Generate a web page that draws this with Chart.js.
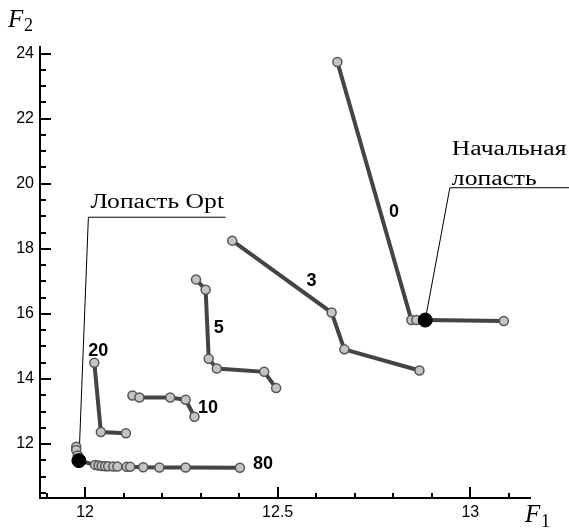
<!DOCTYPE html>
<html>
<head>
<meta charset="utf-8">
<script src="https://cdn.jsdelivr.net/npm/chart.js@4"></script>
<style>
  body { margin: 0; background: #fff; }
  canvas { display: block; }
</style>
</head>
<body>
<canvas id="chart" width="569" height="529"></canvas>
<script>
// series values (F1 = x, F2 = y)
const s0x = [12.655, 12.847, 12.860, 12.883, 13.087];
const s0y = [23.74, 15.81, 15.81, 15.81, 15.78];
const s3x = [12.382, 12.640, 12.673, 12.868];
const s3y = [18.25, 16.04, 14.91, 14.26];
const s5x = [12.288, 12.313, 12.321, 12.342, 12.465, 12.496];
const s5y = [17.06, 16.74, 14.62, 14.32, 14.22, 13.72];
const s10x = [12.123, 12.141, 12.221, 12.261, 12.284];
const s10y = [13.49, 13.43, 13.43, 13.36, 12.84];
const s20x = [12.024, 12.041, 12.106];
const s20y = [14.50, 12.37, 12.33];
const s80x = [11.977, 11.977, 11.981, 11.984, 12.026, 12.035, 12.043, 12.052, 12.060, 12.073, 12.084, 12.108, 12.117, 12.151, 12.193, 12.261, 12.402];
const s80y = [11.92, 11.82, 11.65, 11.49, 11.36, 11.34, 11.33, 11.32, 11.32, 11.31, 11.31, 11.30, 11.30, 11.29, 11.28, 11.28, 11.27];

// labels for each curve and where they sit (data units)
const seriesNames = ['0', '3', '5', '10', '20', '80'];
const nameX = [12.802, 12.588, 12.347, 12.319, 12.034, 12.462];
const nameY = [19.13, 17.01, 15.57, 13.12, 14.86, 11.39];

// marked blades: initial and optimal
const bladeNames = ['Начальная лопасть', 'Лопасть Opt'];
const bladeX = [12.883, 11.984];
const bladeY = [15.81, 11.49];

const xMin = 11.883, xMax = 13.155;
const yMin = 10.343, yMax = 24.2;

function pts(xs, ys) {
  return xs.map((x, i) => ({ x: x, y: ys[i] }));
}

function curve(xs, ys) {
  return {
    data: pts(xs, ys),
    showLine: true,
    borderColor: '#444444',
    borderWidth: 4,
    pointRadius: 4.5,
    pointBackgroundColor: '#c4c4c4',
    pointBorderColor: '#555555',
    pointBorderWidth: 1.5,
    order: 1
  };
}

// the serif captions in the picture are drawn a bit wide
function wideText(c, text, x, y) {
  c.save();
  c.translate(x, y);
  c.scale(1.28, 1);
  c.fillText(text, 0, 0);
  c.restore();
}

const tickFont = { family: 'Arial, "Liberation Sans", sans-serif', size: 16 };

const decorations = {
  id: 'decorations',
  beforeDatasetsDraw(chart) {
    const c = chart.ctx;
    const xs = chart.scales.x, ys = chart.scales.y;
    c.save();
    c.strokeStyle = '#000';
    c.lineWidth = 1;
    // leader for "Лопасть Opt"
    let cx = xs.getPixelForValue(12.0086), cy = ys.getPixelForValue(18.97);
    c.beginPath();
    c.moveTo(xs.getPixelForValue(12.365), cy);
    c.lineTo(cx, cy);
    c.lineTo(xs.getPixelForValue(bladeX[1]), ys.getPixelForValue(bladeY[1]));
    c.stroke();
    c.fillStyle = '#000';
    c.font = '20px "Liberation Serif", "Times New Roman", serif';
    c.textAlign = 'left';
    c.textBaseline = 'alphabetic';
    wideText(c, bladeNames[1], cx + 2, cy - 9);
    // leader for "Начальная лопасть"
    cx = xs.getPixelForValue(12.947); cy = ys.getPixelForValue(19.876);
    c.beginPath();
    c.moveTo(chart.width, cy);
    c.lineTo(cx, cy);
    c.lineTo(xs.getPixelForValue(bladeX[0]), ys.getPixelForValue(bladeY[0]));
    c.stroke();
    const words = bladeNames[0].split(' ');
    wideText(c, words[0], cx + 2, cy - 33);
    wideText(c, words[1], cx + 2, cy - 3);
    c.restore();
  },
  afterDraw(chart) {
    const c = chart.ctx;
    const xs = chart.scales.x, ys = chart.scales.y;
    const a = chart.chartArea;
    c.save();
    c.strokeStyle = '#000';
    c.lineWidth = 2;
    // inward ticks on x axis, minor every 0.1
    for (let i = 119; i <= 131; i++) {
      const px = Math.round(xs.getPixelForValue(i / 10));
      const len = i % 5 === 0 ? 11 : 5;
      c.beginPath();
      c.moveTo(px, a.bottom);
      c.lineTo(px, a.bottom - len);
      c.stroke();
    }
    // inward ticks on y axis, minor every 0.5
    for (let i = 21; i <= 48; i++) {
      const py = Math.round(ys.getPixelForValue(i / 2));
      const len = i % 4 === 0 ? 11 : 6;
      c.beginPath();
      c.moveTo(a.left, py);
      c.lineTo(a.left + len, py);
      c.stroke();
    }
    // curve names
    c.fillStyle = '#000';
    c.font = 'bold 18px Arial, "Liberation Sans", sans-serif';
    c.textAlign = 'center';
    c.textBaseline = 'middle';
    seriesNames.forEach((n, i) => {
      c.fillText(n, xs.getPixelForValue(nameX[i]), ys.getPixelForValue(nameY[i]));
    });
    // axis titles
    c.textAlign = 'left';
    c.textBaseline = 'alphabetic';
    c.font = 'italic 25px "Liberation Serif", "Times New Roman", serif';
    c.fillText('F', 8, 27);
    c.fillText('F', 525, 522);
    c.font = '18px "Liberation Serif", "Times New Roman", serif';
    c.fillText('2', 24, 31);
    c.fillText('1', 541, 527);
    c.restore();
  }
};

new Chart(document.getElementById('chart'), {
  type: 'scatter',
  data: {
    datasets: [
      {
        data: pts(bladeX, bladeY),
        pointRadius: 7,
        pointBackgroundColor: '#000',
        pointBorderColor: '#000',
        showLine: false,
        order: 0
      },
      curve(s0x, s0y),
      curve(s3x, s3y),
      curve(s5x, s5y),
      curve(s10x, s10y),
      curve(s20x, s20y),
      curve(s80x, s80y)
    ]
  },
  options: {
    responsive: false,
    animation: false,
    layout: { padding: { top: 47, right: 39, left: 0, bottom: 0 } },
    plugins: {
      legend: { display: false },
      tooltip: { enabled: false }
    },
    scales: {
      x: {
        type: 'linear',
        min: xMin,
        max: xMax,
        grid: { display: false, drawTicks: false },
        border: { display: true, color: '#000', width: 2 },
        ticks: {
          stepSize: 0.5,
          includeBounds: false,
          autoSkip: false,
          maxRotation: 0,
          color: '#000',
          font: tickFont,
          padding: 5,
          callback: v => String(+v.toFixed(1))
        },
        afterFit(scale) { scale.height = 31; }
      },
      y: {
        type: 'linear',
        min: yMin,
        max: yMax,
        grid: { display: false, drawTicks: false },
        border: { display: true, color: '#000', width: 2 },
        ticks: {
          stepSize: 2,
          includeBounds: false,
          autoSkip: false,
          color: '#000',
          font: tickFont,
          padding: 6
        },
        afterFit(scale) { scale.width = 40; }
      }
    }
  },
  plugins: [decorations]
});
</script>
</body>
</html>
